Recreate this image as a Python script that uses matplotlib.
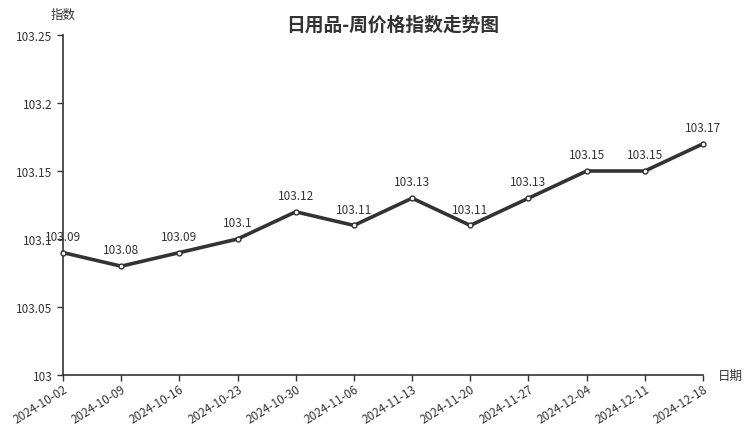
import matplotlib
matplotlib.use('Agg')
import matplotlib.pyplot as plt

plt.rcParams['font.family'] = ['Noto Sans CJK SC', 'DejaVu Sans']

# 数据
dates = ['2024-10-02', '2024-10-09', '2024-10-16', '2024-10-23', '2024-10-30', '2024-11-06',
         '2024-11-13', '2024-11-20', '2024-11-27', '2024-12-04', '2024-12-11', '2024-12-18']
values = [103.09, 103.08, 103.09, 103.1, 103.12, 103.11, 103.13, 103.11, 103.13, 103.15, 103.15, 103.17]
yticks = [103, 103.05, 103.1, 103.15, 103.2, 103.25]
ytick_labels = ['103', '103.05', '103.1', '103.15', '103.2', '103.25']

fig = plt.figure(figsize=(7.52, 4.27), dpi=100)
ax = fig.add_axes([63 / 752, 1 - 376 / 427, 640 / 752, 340 / 427])

x = list(range(len(dates)))
ax.plot(x, values, color='#333333', linewidth=2.6, marker='o', markersize=3.5,
        markerfacecolor='white', markeredgecolor='#333333', markeredgewidth=1, zorder=3,
        clip_on=False)

for xi, v in zip(x, values):
    ax.annotate('{0:g}'.format(v), (xi, v), xytext=(0, 7), textcoords='offset points',
                ha='center', va='bottom', fontsize=8.5, color='#333333')

ax.set_xlim(0, len(dates) - 1)
ax.set_ylim(103, 103.25)
ax.set_xticks(x)
ax.set_xticklabels(dates, rotation=32, ha='right', va='top', rotation_mode='anchor',
                   fontsize=8.5, color='#333333')
ax.set_yticks(yticks)
ax.set_yticklabels(ytick_labels, fontsize=8.5, color='#333333')

for s in ['top', 'right']:
    ax.spines[s].set_visible(False)
for s in ['left', 'bottom']:
    ax.spines[s].set_color('#333333')
    ax.spines[s].set_linewidth(1.2)
ax.tick_params(colors='#333333', length=4, width=1)
ax.tick_params(axis='x', pad=1)

fig.text(63 / 752, 1 - 15 / 427, '指数', ha='center', va='center', fontsize=9, color='#333333')
fig.text(730 / 752, 1 - 376 / 427, '日期', ha='center', va='center', fontsize=9, color='#333333')
fig.text(393 / 752, 1 - 25 / 427, '日用品-周价格指数走势图', ha='center', va='center',
         fontsize=13.5, fontweight='bold', color='#333333')

fig.savefig('out.png', dpi=100)
